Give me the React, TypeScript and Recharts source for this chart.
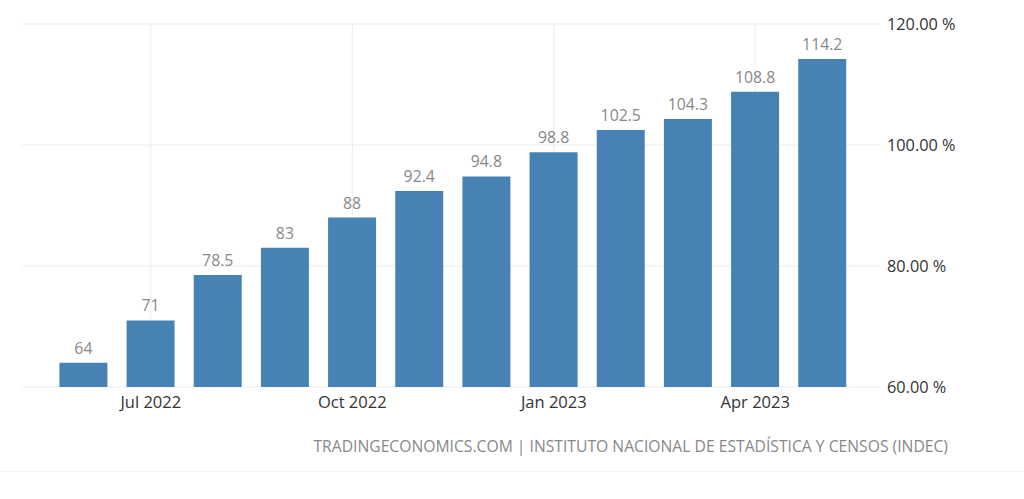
import React from 'react';
import { BarChart, Bar, XAxis, YAxis, CartesianGrid, LabelList } from 'recharts';

const months = ['Jun 2022', 'Jul 2022', 'Aug 2022', 'Sep 2022', 'Oct 2022', 'Nov 2022', 'Dec 2022', 'Jan 2023', 'Feb 2023', 'Mar 2023', 'Apr 2023', 'May 2023'];
const inflation = [64, 71, 78.5, 83, 88, 92.4, 94.8, 98.8, 102.5, 104.3, 108.8, 114.2];
const xTicks = ['Jul 2022', 'Oct 2022', 'Jan 2023', 'Apr 2023'];
const yTicks = [60, 80, 100, 120];
const sourceText = 'TRADINGECONOMICS.COM | INSTITUTO NACIONAL DE ESTADÍSTICA Y CENSOS (INDEC)';

const data = months.map((m, i) => ({ month: m, value: inflation[i] }));

const FONT = '"Open Sans", "DejaVu Sans", sans-serif';

export default function App() {
  return (
    <div style={{ position: 'absolute', left: 0, top: 0, width: 1024, height: 499, background: '#fff', fontFamily: FONT }}>
      <BarChart
        width={1024}
        height={430}
        data={data}
        margin={{ top: 24, right: 0, left: 22, bottom: 13 }}
        barCategoryGap="14%"
      >
        <CartesianGrid stroke="#ececec" syncWithTicks vertical={true} horizontal={true} />
        <XAxis
          dataKey="month"
          ticks={xTicks}
          interval={0}
          padding={{ left: 28, right: 24 }}
          axisLine={false}
          tickLine={false}
          tickMargin={3}
          height={30}
          tick={{ fill: '#333', fontSize: 16.5, fontFamily: FONT }}
        />
        <YAxis
          orientation="right"
          domain={[60, 120]}
          ticks={yTicks}
          width={144}
          axisLine={false}
          tickLine={false}
          tickMargin={1}
          tickFormatter={(v: number) => v.toFixed(2) + ' %'}
          tick={{ fill: '#333', fontSize: 16.3, fontFamily: FONT }}
        />
        <Bar dataKey="value" fill="#4682b4" isAnimationActive={false}>
          <LabelList dataKey="value" position="top" offset={9} fill="#888" fontSize={15.8} fontFamily={FONT} />
        </Bar>
      </BarChart>
      <div
        style={{
          position: 'absolute',
          right: 76,
          top: 435,
          fontSize: 15.7,
          color: '#888',
          fontFamily: FONT,
          whiteSpace: 'nowrap',
        }}
      >
        {sourceText}
      </div>
      <div style={{ position: 'absolute', left: 0, top: 471, width: 1024, height: 1, background: '#f4f4f4' }} />
    </div>
  );
}
